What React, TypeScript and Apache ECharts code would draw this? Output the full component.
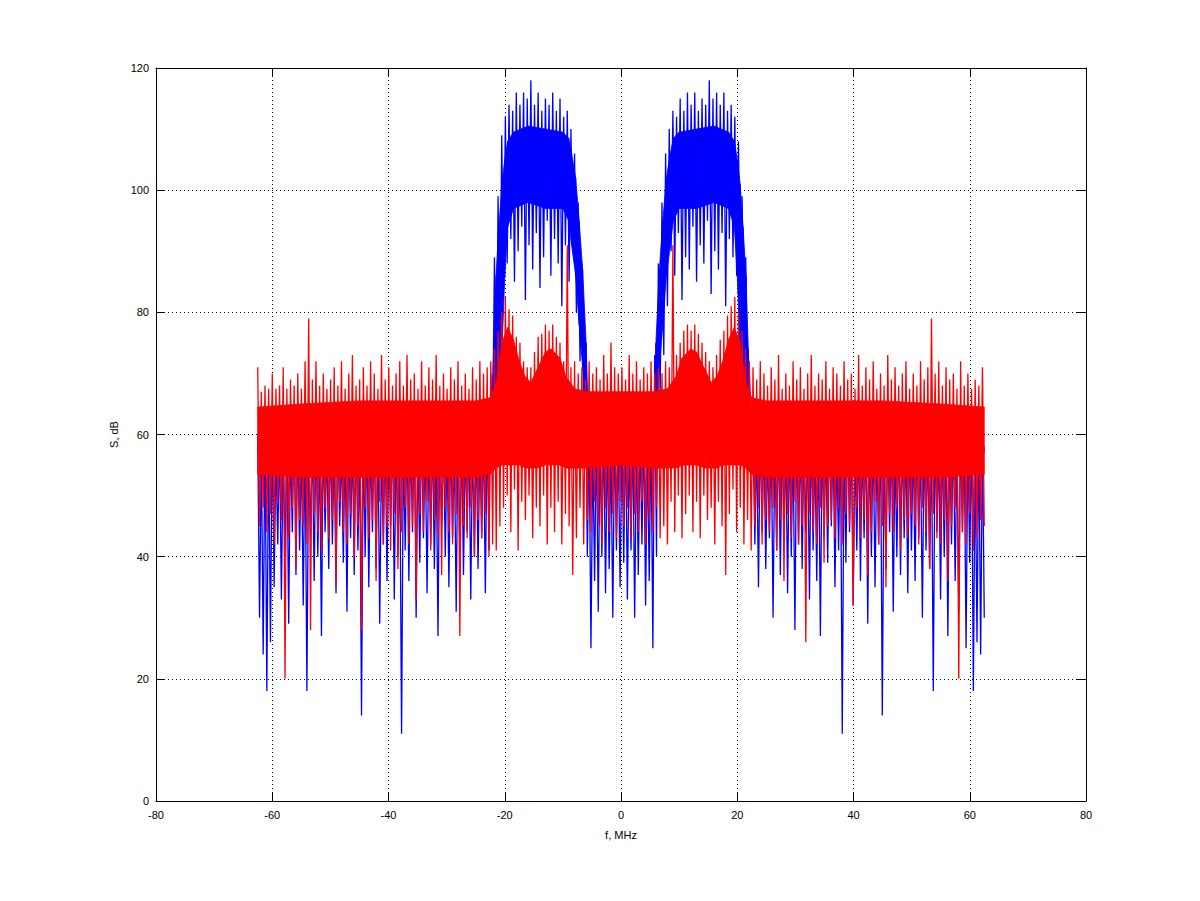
import React, { useEffect, useRef } from "react";
import * as echarts from "echarts";

// Frequency grid of the spectrum (MHz): evenly spaced FFT bins
const F_MIN = -62.5;
const F_MAX = 62.5;

const xTicks = [-80, -60, -40, -20, 0, 20, 40, 60, 80];

// Upper / lower excursions of each bin pair (dB)
const blueHi = [
  60, 58, 61, 59, 62, 57, 60, 58, 61, 59, 62, 60, 58, 61, 59, 60, 62, 58, 61, 59,
  61, 59, 62, 58, 60, 61, 59, 62, 58, 60, 61, 59, 62, 60, 58, 61, 59, 62, 60, 58,
  59, 62, 60, 61, 58, 62, 59, 60, 61, 58, 62, 60, 59, 61, 58, 62, 60, 59, 61, 60,
  60, 59, 61, 62, 70, 89, 99, 109, 112, 114, 113, 116, 114, 116, 115, 118, 114, 116, 113, 115,
  114, 116, 113, 115, 112, 113, 110, 106, 98, 88, 73, 60, 58, 61, 59, 62, 60, 58, 61, 59,
  60, 62, 58, 61, 59, 60, 62, 58, 61, 73, 88, 98, 106, 110, 113, 112, 115, 113, 116, 114,
  116, 113, 115, 114, 118, 115, 116, 114, 116, 113, 114, 112, 108, 99, 89, 70, 61, 59, 62, 60,
  58, 61, 59, 62, 60, 58, 61, 59, 62, 60, 61, 59, 62, 58, 60, 61, 59, 62, 60, 58,
  61, 59, 62, 60, 58, 61, 59, 62, 60, 61, 58, 62, 59, 60, 61, 58, 62, 60, 59, 61,
  60, 62, 58, 61, 59, 60, 62, 58, 61, 59, 60, 62, 58, 61, 59, 60, 62, 58, 61, 60,
];

const blueLo = [
  30, 24, 18, 26, 35, 42, 33, 40, 29, 44, 37, 41, 32, 18, 43, 36, 40, 27, 44, 38,
  42, 34, 45, 39, 31, 43, 37, 41, 14, 40, 35, 44, 38, 29, 42, 36, 45, 33, 40, 11,
  41, 36, 44, 30, 39, 43, 34, 42, 38, 27, 45, 40, 35, 43, 31, 41, 37, 44, 33, 40,
  38, 43, 34, 41, 60, 64, 72, 84, 88, 92, 85, 90, 94, 82, 91, 87, 93, 84, 89, 95,
  86, 92, 88, 81, 91, 85, 90, 80, 72, 66, 40, 25, 36, 31, 40, 34, 38, 30, 41, 35,
  39, 33, 41, 30, 37, 42, 32, 36, 25, 40, 66, 73, 81, 90, 86, 93, 82, 89, 87, 94,
  85, 91, 88, 95, 83, 90, 87, 93, 81, 92, 89, 86, 84, 72, 64, 60, 42, 35, 44, 38,
  43, 30, 41, 37, 45, 34, 40, 28, 42, 38, 44, 33, 41, 36, 27, 43, 39, 45, 35, 41,
  11, 39, 44, 32, 41, 36, 43, 29, 40, 35, 42, 14, 38, 44, 31, 40, 37, 43, 34, 41,
  36, 43, 30, 41, 38, 18, 44, 33, 40, 27, 42, 36, 31, 44, 25, 39, 18, 26, 24, 30,
];

const redHi = [
  71, 67, 68, 67.5, 70, 67.5, 68, 71, 67.5, 69, 68, 70, 67.5, 72, 79, 69, 72, 68, 70, 67.5,
  69, 71, 68, 72, 67.5, 70, 73, 68, 69, 71, 68, 72, 70, 67.5, 73, 69, 71, 68, 70, 72,
  68, 73, 69, 70, 67.5, 72, 68, 71, 69, 73, 68, 70, 67.5, 71, 69, 72, 68, 70, 67.5, 71,
  69, 72, 70, 71, 72, 74, 77, 80, 82.5, 80.5, 79.5, 76, 75, 72, 71, 71, 73.5, 76, 76.5, 78,
  77, 78, 76, 75, 72, 91, 71, 72, 70, 71, 69, 72, 70, 71, 69, 73, 70, 75, 71, 70,
  71, 69, 73, 70, 72, 69, 71, 70, 72, 70, 71, 70, 72, 71, 91, 73, 75, 77, 78, 77,
  78, 76.5, 75, 73.5, 72, 71, 73, 75.5, 77, 79.5, 81, 82.5, 80, 77, 74, 72, 71, 69, 72, 70,
  68, 71, 69, 73, 67.5, 70, 68, 72, 69, 71, 67.5, 70, 73, 68, 70, 69, 72, 67.5, 71, 70,
  68, 72, 69, 70, 67.5, 73, 68, 71, 69, 72, 67.5, 70, 68, 73, 69, 71, 68, 70, 72, 67.5,
  70, 68, 72, 69, 71, 79, 70, 72, 68, 71, 69, 70, 67.5, 72, 68, 70, 67.5, 69, 68, 71,
];

const redLo = [
  45, 48, 44, 47, 42, 49, 46, 20, 43, 48, 38, 46, 45, 42, 28, 47, 44, 41, 48, 43,
  46, 35, 49, 44, 42, 47, 40, 45, 28, 48, 43, 46, 36, 49, 42, 45, 41, 47, 38, 44,
  48, 42, 45, 33, 47, 44, 49, 41, 46, 43, 37, 48, 44, 42, 47, 27, 45, 43, 48, 40,
  46, 43, 47, 40, 42, 41, 45, 48, 50, 44, 51, 41, 49, 46, 50, 43, 48, 45, 50, 42,
  48, 44, 49, 42, 47, 45, 37, 43, 48, 42, 46, 44, 49, 45, 42, 48, 44, 47, 43, 49,
  45, 48, 43, 47, 44, 49, 42, 46, 44, 48, 43, 45, 42, 49, 44, 50, 43, 47, 50, 44,
  49, 43, 50, 46, 48, 42, 49, 45, 37, 47, 51, 44, 48, 42, 46, 41, 45, 48, 42, 46,
  44, 48, 41, 46, 36, 47, 43, 49, 42, 45, 26, 47, 44, 42, 48, 39, 45, 46, 43, 48,
  42, 47, 45, 32, 48, 43, 46, 37, 44, 49, 42, 45, 35, 47, 44, 48, 41, 46, 43, 47,
  45, 42, 48, 44, 38, 47, 43, 42, 46, 36, 45, 48, 20, 44, 42, 47, 41, 43, 46, 45,
];

// Solid body (densely filled part) of each trace
const redBodyF = [
  -62.5, -55, -45, -35, -25, -22.5, -21.5, -20.5, -19.5, -18.5, -17.5, -16.5, -15.5, -14.5,
  -13, -12, -10.5, -9.5, -8, -6, 0, 6, 8, 9.5, 10.5, 12, 13, 14.5, 15.5, 16.5, 17.5, 18.5,
  19.5, 20.5, 21.5, 22.5, 25, 35, 45, 55, 62.5,
];
const redBodyTop = [
  64.5, 65, 65.5, 65.5, 65.5, 66, 68.5, 75, 77.5, 75.5, 72, 69.5, 68.5, 70.5,
  73.5, 74, 72.5, 69.5, 67.5, 67, 67, 67, 67.5, 69.5, 72.5, 74, 73.5, 70.5, 68.5, 69.5, 72, 75.5,
  77.5, 75, 68.5, 66, 65.5, 65.5, 65.5, 65, 64.5,
];
const redBodyBot = [
  53.5, 53, 53, 53, 53, 53.5, 54.5, 55, 55, 55, 55, 54.5, 54.5, 54.5,
  55, 55, 55, 54.5, 54.5, 54.5, 55, 54.5, 54.5, 54.5, 55, 55, 55, 54.5, 54.5, 54.5, 55, 55,
  55, 55, 54.5, 53.5, 53, 53, 53, 53, 53.5,
];

const blueBodyF = [
  -62.5, -22.4, -21.9, -21.5, -21, -20.5, -20, -19.5, -18.5, -16, -13, -10, -9, -8.5, -7.8,
  -7.2, -6.6, -6, -5.6, 0, 5.6, 6, 6.6, 7.2, 7.8, 8.5, 9, 10, 13, 16, 18.5, 19.5, 20, 20.5,
  21, 21.5, 21.9, 22.4, 62.5,
];
const blueBodyTop = [
  58, 60, 74, 86, 94, 101, 105, 108, 109.5, 110.5, 110, 109.5, 108.5, 106, 102,
  95, 87, 75, 62, 58, 62, 75, 87, 95, 102, 106, 108.5, 109.5, 110, 110.5, 109.5, 108, 105, 101,
  94, 86, 74, 60, 58,
];
const blueBodyBot = [
  57, 57, 60, 62, 66, 73, 86, 94, 97, 98, 97, 97, 95, 91, 86,
  78, 71, 62, 57, 57, 57, 62, 71, 78, 86, 91, 95, 97, 97, 98, 97, 94, 86, 73,
  66, 62, 60, 57, 57,
];

function zigzag(hi: number[], lo: number[]): [number, number][] {
  const n = hi.length * 2;
  const step = (F_MAX - F_MIN) / (n - 1);
  const pts: [number, number][] = [];
  for (let k = 0; k < n; k++) {
    const i = Math.floor(k / 2);
    pts.push([F_MIN + k * step, k % 2 === 0 ? hi[i] : lo[i]]);
  }
  return pts;
}

function bodySeries(F: number[], top: number[], bot: number[], color: string, z: number) {
  return {
    type: "custom",
    z,
    silent: true,
    clip: true,
    xAxisIndex: 0,
    yAxisIndex: 0,
    data: F.map((f, i) => [f, top[i], bot[i]]),
    encode: { x: 0, y: [1, 2] },
    renderItem: (params: any, api: any) => {
      const i = params.dataIndex;
      if (i >= F.length - 1) return null;
      const pts = [
        api.coord([F[i], top[i]]),
        api.coord([F[i + 1], top[i + 1]]),
        api.coord([F[i + 1], bot[i + 1]]),
        api.coord([F[i], bot[i]]),
      ];
      return {
        type: "polygon",
        shape: { points: pts },
        style: { fill: color, stroke: color, lineWidth: 0.8 },
      };
    },
  };
}

const FONT = "Liberation Sans";

export default function App() {
  const ref = useRef<HTMLDivElement>(null);
  useEffect(() => {
    if (!ref.current) return;
    const chart = echarts.init(ref.current, null, { renderer: "svg" });
    const tickStyle = { inside: true, length: 9, lineStyle: { color: "#000", width: 1 } };
    const axisLine = { show: true, onZero: false, lineStyle: { color: "#000", width: 1 } };
    const dotted = { show: true, lineStyle: { color: "#000", width: 1, type: [1, 3] as any } };
    const label = { color: "#000", fontFamily: FONT, fontSize: 11 };
    chart.setOption({
      animation: false,
      backgroundColor: "#fff",
      grid: { left: 156, top: 68, right: 114, bottom: 100, show: false },
      xAxis: [
        {
          type: "value", position: "bottom", min: -80, max: 80, interval: 20,
          axisLine, axisTick: tickStyle, splitLine: dotted,
          axisLabel: { ...label, margin: 8, customValues: xTicks } as any,
          name: "f, MHz", nameLocation: "middle", nameGap: 28,
          nameTextStyle: { ...label },
        },
        {
          type: "value", position: "top", min: -80, max: 80, interval: 20,
          axisLine, axisTick: tickStyle, splitLine: { show: false },
          axisLabel: { show: false },
        },
      ],
      yAxis: [
        {
          type: "value", position: "left", min: 0, max: 120, interval: 20,
          axisLine, axisTick: tickStyle, splitLine: dotted,
          axisLabel: { ...label, margin: 7 },
          name: "S, dB", nameLocation: "middle", nameGap: 33, nameRotate: 90,
          nameTextStyle: { ...label },
        },
        {
          type: "value", position: "right", min: 0, max: 120, interval: 20,
          axisLine, axisTick: tickStyle, splitLine: { show: false },
          axisLabel: { show: false },
        },
      ],
      series: [
        bodySeries(blueBodyF, blueBodyTop, blueBodyBot, "#0000ff", 2),
        {
          type: "line", xAxisIndex: 0, yAxisIndex: 0, showSymbol: false, symbol: "none",
          data: zigzag(blueHi, blueLo), lineStyle: { color: "#0000ff", width: 1.3 },
          silent: true, z: 3,
        },
        bodySeries(redBodyF, redBodyTop, redBodyBot, "#ff0000", 4),
        {
          type: "line", xAxisIndex: 0, yAxisIndex: 0, showSymbol: false, symbol: "none",
          data: zigzag(redHi, redLo), lineStyle: { color: "#ff0000", width: 1.3 },
          silent: true, z: 5,
        },
      ],
    });
    return () => chart.dispose();
  }, []);
  return (
    <div
      ref={ref}
      style={{ position: "fixed", left: 0, top: 0, width: 1200, height: 901, background: "#fff" }}
    />
  );
}
